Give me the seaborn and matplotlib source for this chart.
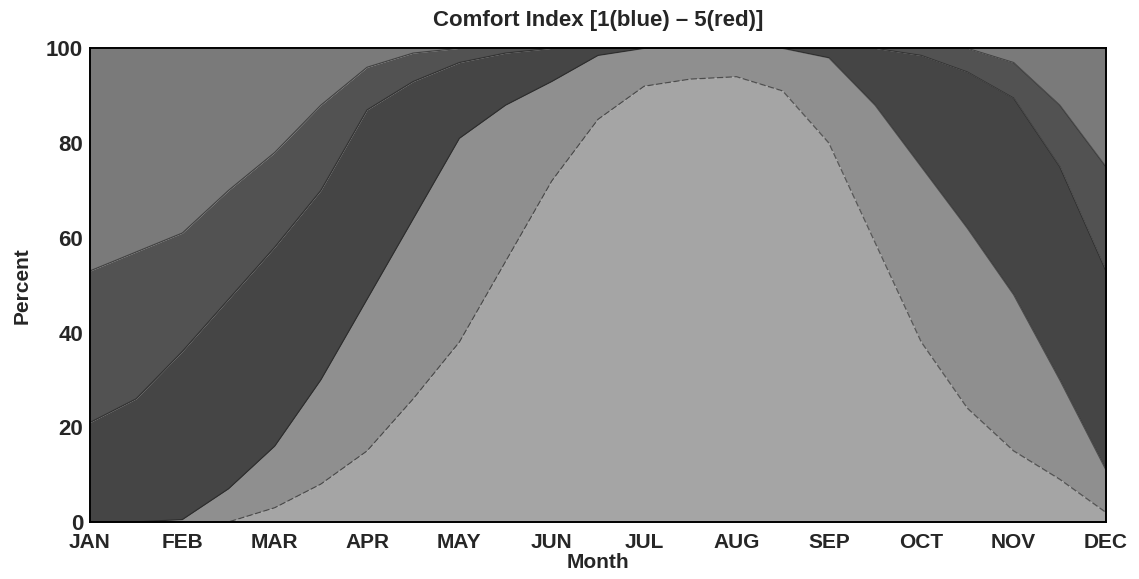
import matplotlib
matplotlib.use("Agg")
import matplotlib.pyplot as plt
import numpy as np
import pandas as pd
import seaborn as sns

# month labels and half-month sample positions (0 = JAN, 11 = DEC)
months = ["JAN", "FEB", "MAR", "APR", "MAY", "JUN",
          "JUL", "AUG", "SEP", "OCT", "NOV", "DEC"]
pos = np.arange(0, 11.5, 0.5)

# percent of time in each comfort class (half-month steps)
cls1 = [0, 0, 0, 0, 3, 8, 15, 26, 38, 55, 72, 85, 92, 93.5, 94, 91, 80, 59, 38, 24, 15, 9, 2]
cls2 = [0, 0, 0.5, 7, 13, 22, 32, 38, 43, 33, 21, 13.5, 8, 6.5, 6, 9, 18, 29, 37, 38, 33, 21, 9]
cls3 = [21, 26, 35.5, 40, 42, 40, 40, 29, 16, 11, 7, 1.5, 0, 0, 0, 0, 2, 12, 23.5, 33, 41.5, 45, 42]
cls4 = [32, 31, 25, 23, 20, 18, 9, 6, 3, 1, 0, 0, 0, 0, 0, 0, 0, 0, 1.5, 5, 7.5, 13, 22]
cls5 = [47, 43, 39, 30, 22, 12, 4, 1, 0, 0, 0, 0, 0, 0, 0, 0, 0, 0, 0, 0, 3, 12, 25]

grays = ["#a5a5a5", "#8f8f8f", "#454545", "#525252", "#7a7a7a"]

df = pd.DataFrame({"pos": pos, "c1": cls1, "c2": cls2, "c3": cls3, "c4": cls4, "c5": cls5})
cols = ["c1", "c2", "c3", "c4", "c5"]
cum = df[cols].cumsum(axis=1)

sns.set_theme(style="white")
plt.rcParams["font.family"] = ["Liberation Sans", "DejaVu Sans"]
plt.rcParams["font.weight"] = "bold"

fig = plt.figure(figsize=(11.39, 5.79), dpi=100)
ax = fig.add_axes([0.079, 0.0985, 0.892, 0.818])

ax.stackplot(df["pos"], *[df[c] for c in cols], colors=grays, linewidth=0)

# boundary lines between classes
for i, c in enumerate(cols[:-1]):
    sns.lineplot(x=df["pos"], y=cum[c], ax=ax, color="#1e1e1e", lw=0.9, alpha=0.6,
                 linestyle=(0, (5, 2)) if i == 0 else "-", legend=False)

ax.set_xlim(0, 11)
ax.set_ylim(0, 100)
ax.set_xticks(range(12))
ax.set_xticklabels(months, fontsize=15, fontweight="bold")
ax.set_yticks([0, 20, 40, 60, 80, 100])
ax.set_yticklabels(["0", "20", "40", "60", "80", "100"], fontsize=16, fontweight="bold")
ax.tick_params(axis="both", direction="out", length=3, width=1, color="black", pad=2)
ax.tick_params(axis="x", pad=5)

for s in ax.spines.values():
    s.set_color("black")
    s.set_linewidth(1.4)

ax.set_xlabel("Month", fontsize=15, fontweight="bold", labelpad=1)
ax.set_ylabel("Percent", fontsize=15, fontweight="bold", labelpad=10)
ax.set_title("Comfort Index [1(blue) \u2013 5(red)]", fontsize=16, fontweight="bold", pad=16)

fig.savefig("out.png", dpi=100)
